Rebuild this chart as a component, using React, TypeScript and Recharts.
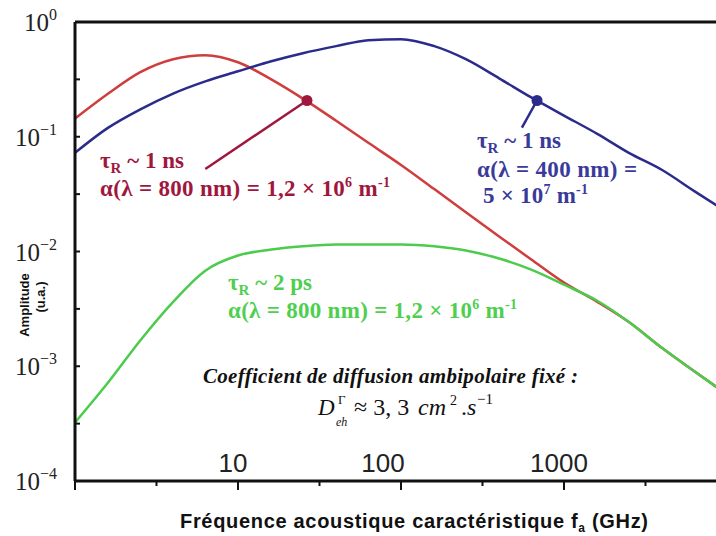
import {
  ComposedChart,
  Line,
  XAxis,
  YAxis,
  ReferenceLine,
  ReferenceDot,
} from "recharts";

// frequencies (GHz), five samples per decade
const freq = [1, 1.6, 2.5, 4, 6.3, 10, 16, 25, 40, 63, 100, 160, 250, 400, 630, 1000, 1600, 2500, 4000, 6300, 10000];

// tau_R ~ 1 ns, 800 nm
const ampRed = [0.144, 0.238, 0.364, 0.474, 0.514, 0.446, 0.316, 0.215, 0.138, 0.0886, 0.0568, 0.035, 0.022, 0.01354, 0.00851, 0.00535, 0.00364, 0.00243, 0.00144, 0.000904, 0.000568];
// tau_R ~ 1 ns, 400 nm
const ampBlue = [0.0724, 0.12, 0.1725, 0.238, 0.304, 0.372, 0.455, 0.535, 0.616, 0.695, 0.709, 0.616, 0.474, 0.323, 0.22, 0.153, 0.106, 0.0724, 0.0513, 0.0336, 0.022];
// tau_R ~ 2 ps, 800 nm
const ampGreen = [0.000323, 0.000724, 0.00166, 0.00364, 0.00681, 0.00923, 0.0104, 0.0111, 0.0115, 0.0115, 0.0115, 0.0111, 0.0102, 0.00868, 0.00695, 0.00514, 0.00372, 0.00243, 0.00144, 0.000904, 0.000568];

const xTicks = [1, 3.162, 10, 31.62, 100, 316.2, 1000, 3162, 10000];
const xTickLabels = [10, 100, 1000];
const yTicks = [1e-4, 3.162e-4, 1e-3, 3.162e-3, 1e-2, 3.162e-2, 0.1, 0.3162, 1];

// marked points + end of their leader lines
const redMark = { f: 26.5, a: 0.207 };
const redLeaderEnd = { f: 6.3, a: 0.0524 };
const blueMark = { f: 683, a: 0.207 };
const blueLeaderEnd = { f: 552, a: 0.12 };

const data = freq.map((f, i) => ({ f, red: ampRed[i], blue: ampBlue[i], green: ampGreen[i] }));

const RED_LINE = "#cf3d3d";
const RED_TXT = "#a0173e";
const BLUE_LINE = "#2b2b8c";
const BLUE_TXT = "#3a3a9a";
const GREEN_LINE = "#4ccb4c";
const GREEN_TXT = "#4fcf4f";

const SERIF = "'Liberation Serif', 'Times New Roman', serif";
const SANS = "'Liberation Sans', Arial, sans-serif";

const isMajor = (v: number) => Math.abs(Math.log10(v) - Math.round(Math.log10(v))) < 0.01;

const YTick = (props: any) => {
  const { x, y, payload } = props;
  const v = payload.value as number;
  const major = isMajor(v);
  const exp = Math.round(Math.log10(v));
  return (
    <g>
      <line x1={x} x2={x + 5} y1={y} y2={y} stroke="#111" strokeWidth={2} />
      {major && (
        <text x={57} y={y + 9} textAnchor="end" fontFamily={SERIF} fontSize={25} fill="#222">
          10
          <tspan dy={-11} fontSize={16}>{exp === 0 ? "0" : "\u2212" + Math.abs(exp)}</tspan>
        </text>
      )}
    </g>
  );
};

const labelShift: Record<number, number> = { 10: -5, 100: -18, 1000: -5 };

const XTick = (props: any) => {
  const { x, y, payload } = props;
  const v = payload.value as number;
  const major = isMajor(v);
  const lbl = xTickLabels.find((t) => Math.abs(t - v) < 1e-6);
  return (
    <g>
      <line x1={x} x2={x} y1={y} y2={y + (major ? 9 : 5)} stroke="#111" strokeWidth={2} />
      {lbl !== undefined && (
        <text x={x + (labelShift[lbl] || 0)} y={y - 9} textAnchor="middle" fontFamily={SANS} fontSize={26} fill="#222">
          {lbl}
        </text>
      )}
    </g>
  );
};

const Sup = ({ children }: { children: string }) => (
  <tspan dy={-9} fontSize={14}>{children}</tspan>
);

const Tau = ({ x, y, rest }: { x: number; y: number; rest: string }) => (
  <text x={x} y={y}>
    τ<tspan dy={5} fontSize={15}>R</tspan>
    <tspan dy={-5}>{rest}</tspan>
  </text>
);

const Annotations = () => (
  <svg width={716} height={536} style={{ position: "absolute", left: 0, top: 0, pointerEvents: "none" }}>
    {/* red */}
    <g fontFamily={SERIF} fontWeight="bold" fill={RED_TXT} fontSize={23}>
      <Tau x={100} y={168} rest=" ~ 1 ns" />
      <text x={100} y={196} textLength={290}>
        α(λ = 800 nm) = 1,2 × 10<Sup>6</Sup>
        <tspan dy={9}> m</tspan>
        <Sup>-1</Sup>
      </text>
    </g>
    {/* blue */}
    <g fontFamily={SERIF} fontWeight="bold" fill={BLUE_TXT} fontSize={23}>
      <Tau x={477} y={148} rest=" ~ 1 ns" />
      <text x={477} y={177} textLength={160}>α(λ = 400 nm) =</text>
      <text x={483} y={203} textLength={105}>
        5 × 10<Sup>7</Sup>
        <tspan dy={9}> m</tspan>
        <Sup>-1</Sup>
      </text>
    </g>
    {/* green */}
    <g fontFamily={SERIF} fontWeight="bold" fill={GREEN_TXT} fontSize={23}>
      <Tau x={228} y={290} rest=" ~ 2 ps" />
      <text x={228} y={318} textLength={289}>
        α(λ = 800 nm) = 1,2 × 10<Sup>6</Sup>
        <tspan dy={9}> m</tspan>
        <Sup>-1</Sup>
      </text>
    </g>
    {/* diffusion coefficient */}
    <text x={203} y={383} textLength={375} fontFamily={SERIF} fontWeight="bold" fontStyle="italic" fontSize={21} fill="#111">
      Coefficient de diffusion ambipolaire fixé :
    </text>
    <g fontFamily={SERIF} fill="#111">
      <text x={318} y={415} fontSize={23} fontStyle="italic">D</text>
      <text x={338} y={404} fontSize={13}>Γ</text>
      <text x={336} y={426} fontSize={12} fontStyle="italic">eh</text>
      <text x={354} y={415} fontSize={24}>≈ 3, 3</text>
      <text x={418} y={415} fontSize={24} fontStyle="italic">cm</text>
      <text x={450} y={405} fontSize={14}>2</text>
      <text x={461} y={415} fontSize={24}>.</text>
      <text x={467} y={415} fontSize={24} fontStyle="italic">s</text>
      <text x={477} y={404} fontSize={15}>−1</text>
    </g>
    {/* axis titles */}
    <text x={180} y={528} textLength={468} fontFamily={SANS} fontWeight="bold" fontSize={20} fill="#111">
      Fréquence acoustique caractéristique f<tspan dy={4} fontSize={12}>a</tspan>
      <tspan dy={-4}> (GHz)</tspan>
    </text>
    <g transform="translate(0,305) rotate(-90)" fontFamily={SANS} fontWeight="bold" fontSize={13} fill="#111">
      <text x={0} y={29} textAnchor="middle">Amplitude</text>
      <text x={8} y={45} textAnchor="middle">(u.a.)</text>
    </g>
  </svg>
);

export default function App() {
  return (
    <div style={{ position: "fixed", left: 0, top: 0, width: 716, height: 536, overflow: "hidden", background: "#fff" }}>
      <ComposedChart width={760} height={536} data={data} margin={{ top: 22, right: 33, bottom: 25, left: 15 }}>
        <XAxis
          dataKey="f"
          type="number"
          scale="log"
          domain={[1, 10000]}
          ticks={xTicks}
          allowDataOverflow
          height={30}
          tickSize={0}
          tickMargin={0}
          tickLine={false}
          axisLine={{ stroke: "#111", strokeWidth: 3 }}
          tick={<XTick />}
          interval={0}
        />
        <YAxis
          type="number"
          scale="log"
          domain={[1e-4, 1]}
          ticks={yTicks}
          allowDataOverflow
          width={60}
          tickSize={0}
          tickMargin={0}
          tickLine={false}
          axisLine={{ stroke: "#111", strokeWidth: 3 }}
          tick={<YTick />}
          interval={0}
        />
        <ReferenceLine y={1} stroke="#111" strokeWidth={3} />
        <Line dataKey="red" type="monotone" stroke={RED_LINE} strokeWidth={2.5} dot={false} isAnimationActive={false} />
        <Line dataKey="blue" type="monotone" stroke={BLUE_LINE} strokeWidth={2.5} dot={false} isAnimationActive={false} />
        <Line dataKey="green" type="monotone" stroke={GREEN_LINE} strokeWidth={2.5} dot={false} isAnimationActive={false} />
        <ReferenceLine
          segment={[{ x: redMark.f, y: redMark.a }, { x: redLeaderEnd.f, y: redLeaderEnd.a }]}
          stroke={RED_TXT}
          strokeWidth={2.5}
        />
        <ReferenceLine
          segment={[{ x: blueMark.f, y: blueMark.a }, { x: blueLeaderEnd.f, y: blueLeaderEnd.a }]}
          stroke={BLUE_LINE}
          strokeWidth={2.5}
        />
        <ReferenceDot x={redMark.f} y={redMark.a} r={5.5} fill={RED_TXT} stroke="none" />
        <ReferenceDot x={blueMark.f} y={blueMark.a} r={5.5} fill={BLUE_LINE} stroke="none" />
      </ComposedChart>
      <Annotations />
    </div>
  );
}
